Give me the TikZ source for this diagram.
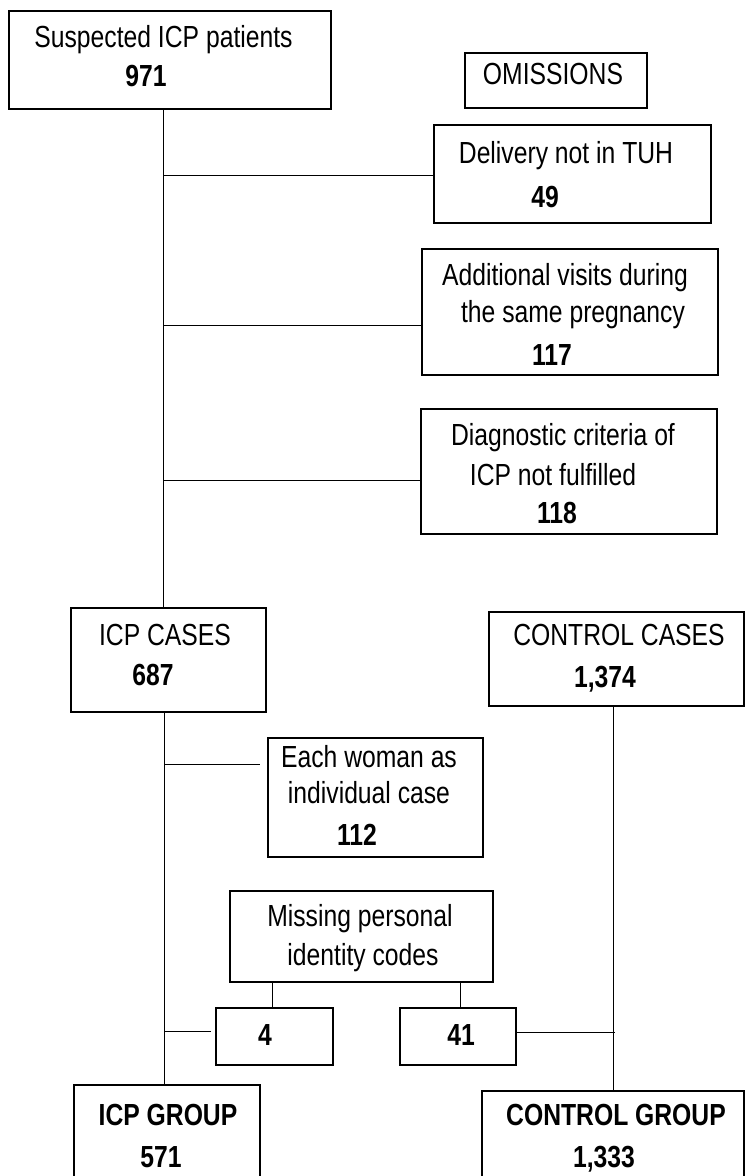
\documentclass[tikz,border=0pt]{standalone}
\usepackage{fontspec}
\setmainfont{Liberation Sans}[FakeStretch=0.81]
\usetikzlibrary{fit}
\begin{document}
\begin{tikzpicture}[x=1pt,y=-1pt,
  box/.style={draw=black,line width=2pt,inner sep=0pt,fill=none},
  txt/.style={anchor=base,inner sep=0pt,font=\fontsize{30.5pt}{36pt}\selectfont},
  num/.style={txt,font=\fontsize{30.5pt}{36pt}\selectfont\bfseries},
  conn/.style={draw=black,line width=1pt}]
\useasboundingbox (0,0) rectangle (745,1176);
% boxes
\node[box,fit={(9,11) (331,109)}] (sus) {};
\node[box,fit={(465,53) (647,108)}] (omi) {};
\node[box,fit={(434,125) (711,223)}] (del) {};
\node[box,fit={(422,249) (718,375)}] (add) {};
\node[box,fit={(421,409) (717,534)}] (dia) {};
\node[box,fit={(71,608) (266,712)}] (icpc) {};
\node[box,fit={(489,612) (744,706)}] (ctrc) {};
\node[box,fit={(268,738) (483,857)}] (each) {};
\node[box,fit={(230,891) (493,982)}] (miss) {};
\node[box,fit={(216,1008) (333,1065)}] (four) {};
\node[box,fit={(400,1008) (516,1065)}] (fone) {};
\node[box,fit={(74,1085) (260,1195)}] (icpg) {};
\node[box,fit={(482,1091) (744,1195)}] (ctrg) {};
% texts
\node[txt] (sus1) at (163.5,47) {Suspected ICP patients};
\node[num] (sus2) at (146,86) {971};
\node[txt] (omi1) at (553,84) {OMISSIONS};
\node[txt] (del1) at (566,163) {Delivery not in TUH};
\node[num] (del2) at (545,207) {49};
\node[txt] (add1) at (565,285) {Additional visits during};
\node[txt] (add2) at (573,322) {the same pregnancy};
\node[num] (add3) at (552,365) {117};
\node[txt] (dia1) at (563,445) {Diagnostic criteria of};
\node[txt] (dia2) at (553,485) {ICP not fulfilled};
\node[num] (dia3) at (557,523) {118};
\node[txt] (icpc1) at (165,645) {ICP CASES};
\node[num] (icpc2) at (153,685) {687};
\node[txt] (ctrc1) at (619,645) {CONTROL CASES};
\node[num] (ctrc2) at (605,687) {1,374};
\node[txt] (each1) at (369,767) {Each woman as};
\node[txt] (each2) at (369,803) {individual case};
\node[num] (each3) at (357,845) {112};
\node[txt] (miss1) at (360,926) {Missing personal};
\node[txt] (miss2) at (363,965) {identity codes};
\node[num] (four1) at (265,1045) {4};
\node[num] (fone1) at (461,1045) {41};
\node[num] (icpg1) at (168,1125) {ICP GROUP};
\node[num] (icpg2) at (161,1167) {571};
\node[num] (ctrg1) at (616,1125) {CONTROL GROUP};
\node[num] (ctrg2) at (604,1167) {1,333};
% helper coordinates
\coordinate (mx) at (163,0);
\coordinate (cx) at (613,0);
\coordinate (m1) at (163,175);
\coordinate (m2) at (163,325);
\coordinate (m3) at (163,480);
\coordinate (m4) at (164,764);
\coordinate (e4) at (260,764);
\coordinate (m5) at (164,1031);
\coordinate (e5) at (211,1031);
\coordinate (c5) at (615,1032);
\coordinate (l4) at (272,0);
\coordinate (l41) at (460,0);
% connectors
\draw[conn] (sus.south -| mx) -- (icpc.north -| mx);
\draw[conn] (m1) -- (del.west |- m1);
\draw[conn] (m2) -- (add.west |- m2);
\draw[conn] (m3) -- (dia.west |- m3);
\draw[conn] (icpc.south -| m4) -- (icpg.north -| m4);
\draw[conn] (m4) -- (e4);
\draw[conn] (m5) -- (e5);
\draw[conn] (miss.south -| l4) -- (four.north -| l4);
\draw[conn] (miss.south -| l41) -- (fone.north -| l41);
\draw[conn] (ctrc.south -| cx) -- (ctrg.north -| cx);
\draw[conn] (fone.east |- c5) -- (c5);
\end{tikzpicture}
\end{document}
